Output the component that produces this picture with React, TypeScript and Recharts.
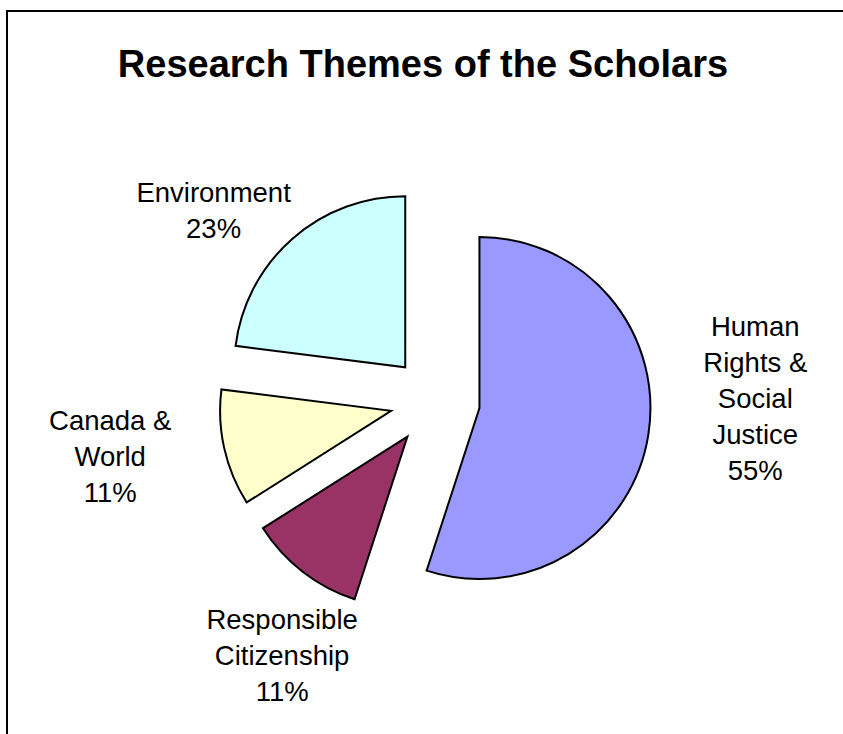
import { Pie, PieChart } from "recharts";

const categories = [
  "Human Rights & Social Justice",
  "Responsible Citizenship",
  "Canada & World",
  "Environment",
];
const shares = [55, 11, 11, 23];
const colors = ["#9999ff", "#993366", "#ffffcc", "#ccffff"];

// label layout tweaks (px) relative to the radial anchor, per slice
const labelNudges = [
  [24, -50],
  [31, 17],
  [-32, -10],
  [-23, 34],
];

const WIDTH = 843;
const HEIGHT = 734;
const CX = 435;
const CY = 401;
const RADIUS = 171;
const EXPLODE = 45;
const LABEL_R = 300 - EXPLODE;
const LINE_H = 36;
const FONT = "'Liberation Sans', Arial, sans-serif";
const RAD = Math.PI / 180;

const total = shares.reduce((a, b) => a + b, 0);

function wrap(text: string, maxChars = 9) {
  const lines: string[] = [];
  let cur = "";
  for (const word of text.split(" ")) {
    const next = cur ? `${cur} ${word}` : word;
    if (cur && next.length > maxChars) {
      lines.push(cur);
      cur = word;
    } else {
      cur = next;
    }
  }
  if (cur) lines.push(cur);
  return lines;
}

const slices = (() => {
  let cum = 0;
  return categories.map((name, i) => {
    const startAngle = 90 - (cum / total) * 360;
    cum += shares[i];
    const endAngle = 90 - (cum / total) * 360;
    const mid = ((startAngle + endAngle) / 2) * RAD;
    return {
      name,
      value: shares[i],
      fill: colors[i],
      startAngle,
      endAngle,
      cx: CX + EXPLODE * Math.cos(mid),
      cy: CY - EXPLODE * Math.sin(mid),
    };
  });
})();

function makeLabel(i: number) {
  return (props: any) => {
    const { cx, cy, midAngle } = props;
    const ax = cx + LABEL_R * Math.cos(-midAngle * RAD) + labelNudges[i][0];
    const ay = cy + LABEL_R * Math.sin(-midAngle * RAD) + labelNudges[i][1];
    const pct = Math.round((shares[i] / total) * 100);
    const lines = [...wrap(categories[i]), `${pct}%`];
    const top = ay - ((lines.length - 1) * LINE_H) / 2;
    return (
      <text
        x={ax}
        y={top}
        textAnchor="middle"
        dominantBaseline="central"
        fontFamily={FONT}
        fontSize={27.5}
        fill="#000"
      >
        {lines.map((line, k) => (
          <tspan key={k} x={ax} y={top + k * LINE_H}>
            {line}
          </tspan>
        ))}
      </text>
    );
  };
}

export default function App() {
  return (
    <div
      style={{
        position: "absolute",
        left: 0,
        top: 0,
        width: WIDTH,
        height: HEIGHT,
        background: "#fff",
        overflow: "hidden",
      }}
    >
      <svg
        width={WIDTH}
        height={HEIGHT}
        style={{ position: "absolute", left: 0, top: 0 }}
      >
        <path d={`M7,${HEIGHT} V11 H${WIDTH + 10}`} fill="none" stroke="#000" strokeWidth={2} />
      </svg>
      <div
        style={{
          position: "absolute",
          left: 0,
          top: 46,
          width: WIDTH + 3,
          textAlign: "center",
          fontFamily: FONT,
          fontWeight: "bold",
          fontSize: 38,
          lineHeight: "37px",
          color: "#000",
          whiteSpace: "nowrap",
        }}
      >
        Research Themes of the Scholars
      </div>
      <div style={{ position: "absolute", left: 0, top: 0 }}>
        <PieChart
          width={WIDTH}
          height={HEIGHT}
          margin={{ top: 0, right: 0, bottom: 0, left: 0 }}
        >
          {slices.map((s, i) => (
            <Pie
              key={s.name}
              data={[s]}
              dataKey="value"
              nameKey="name"
              cx={s.cx}
              cy={s.cy}
              outerRadius={RADIUS}
              startAngle={s.startAngle}
              endAngle={s.endAngle}
              fill={s.fill}
              stroke="#000"
              strokeWidth={2}
              labelLine={false}
              label={makeLabel(i)}
              isAnimationActive={false}
            />
          ))}
        </PieChart>
      </div>
    </div>
  );
}
